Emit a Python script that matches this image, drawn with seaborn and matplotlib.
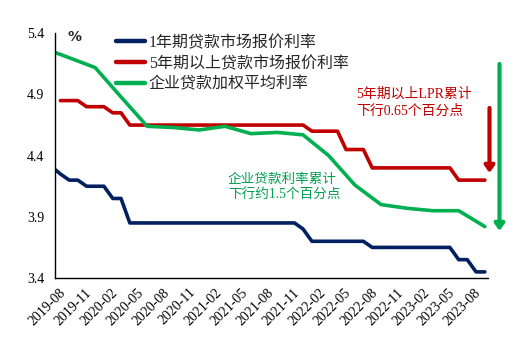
import matplotlib
matplotlib.use("Agg")
import matplotlib.pyplot as plt
import matplotlib.dates as mdates
import matplotlib.transforms as mtransforms
from matplotlib.lines import Line2D
import numpy as np
import pandas as pd
import seaborn as sns

sns.set_style("white")
plt.rcParams["font.family"] = ["Liberation Serif", "Noto Sans CJK SC", "DejaVu Sans"]
plt.rcParams["axes.unicode_minus"] = False

# ---- data ----
series_names = ["1年期贷款市场报价利率", "5年期以上贷款市场报价利率", "企业贷款加权平均利率"]
colors = ["#002060", "#C00000", "#00B050"]

# monthly LPR fixings (20th of each month), 2019-07 .. 2023-09
lpr_months = pd.date_range("2019-07-01", "2023-09-01", freq="MS") + pd.Timedelta(days=19)
lpr_1y = [4.31,
          4.25, 4.20, 4.20, 4.15, 4.15, 4.15, 4.05, 4.05, 3.85,
          3.85, 3.85, 3.85, 3.85, 3.85, 3.85, 3.85, 3.85,
          3.85, 3.85, 3.85, 3.85, 3.85, 3.85, 3.85, 3.85, 3.85, 3.85, 3.85,
          3.80,
          3.70, 3.70, 3.70, 3.70, 3.70, 3.70, 3.70,
          3.65, 3.65, 3.65, 3.65, 3.65, 3.65, 3.65, 3.65, 3.65, 3.65,
          3.55, 3.55, 3.45, 3.45]
lpr_5y = [np.nan,
          4.85, 4.85, 4.85, 4.80, 4.80, 4.80, 4.75, 4.75,
          4.65, 4.65, 4.65, 4.65, 4.65, 4.65, 4.65, 4.65, 4.65,
          4.65, 4.65, 4.65, 4.65, 4.65, 4.65, 4.65, 4.65, 4.65, 4.65, 4.65, 4.65,
          4.60, 4.60, 4.60, 4.60,
          4.45, 4.45, 4.45,
          4.30, 4.30, 4.30, 4.30, 4.30, 4.30, 4.30, 4.30, 4.30, 4.30,
          4.20, 4.20, 4.20, 4.20]

# quarterly weighted average rate on corporate loans
corp_quarters = pd.date_range("2019-06-01", "2023-09-01", freq="3MS") + pd.Timedelta(days=19)
corp_rate = [5.28, 5.20, 5.12, 4.88, 4.64, 4.63, 4.61, 4.64, 4.58,
             4.59, 4.57, 4.40, 4.16, 4.00, 3.97, 3.95, 3.95, 3.82]

y_ticks = [3.4, 3.9, 4.4, 4.9, 5.4]

df = pd.concat([
    pd.DataFrame({"date": lpr_months, "rate": lpr_1y, "series": series_names[0]}),
    pd.DataFrame({"date": lpr_months, "rate": lpr_5y, "series": series_names[1]}),
    pd.DataFrame({"date": corp_quarters, "rate": corp_rate, "series": series_names[2]}),
]).dropna()

# ---- figure ----
W, H = 525, 343
fig = plt.figure(figsize=(W / 100, H / 100), dpi=100)
ax = fig.add_axes([55 / W, 1 - 278 / H, (488 - 55) / W, (278 - 33.3) / H])

sns.lineplot(data=df, x="date", y="rate", hue="series", hue_order=series_names,
             palette=colors, linewidth=2.6, ax=ax, legend=False, estimator=None)

ax.set_xlim(pd.Timestamp("2019-08-01"), pd.Timestamp("2023-10-01"))
ax.set_ylim(3.4, 5.4)
ax.set_yticks(y_ticks)
ax.set_yticklabels([f"{v:.1f}" for v in y_ticks])
ax.xaxis.set_major_locator(mdates.MonthLocator(bymonth=[2, 5, 8, 11], bymonthday=1))
ax.xaxis.set_major_formatter(mdates.DateFormatter("%Y-%m"))
ax.set_xlabel("")
ax.set_ylabel("")

for s in ["top", "right"]:
    ax.spines[s].set_visible(False)
for s in ["left", "bottom"]:
    ax.spines[s].set_color("black")
    ax.spines[s].set_linewidth(1.0)

ax.tick_params(axis="both", which="major", direction="out", length=4, width=1,
               color="black", labelsize=10, labelcolor="black")
ax.tick_params(axis="x", pad=2)
shift = mtransforms.ScaledTranslation(6 / 72, -3 / 72, fig.dpi_scale_trans)
for lab in ax.get_xticklabels():
    lab.set_rotation(45)
    lab.set_ha("right")
    lab.set_va("center")
    lab.set_rotation_mode("anchor")
    lab.set_transform(lab.get_transform() + shift)

fig.text(75 / W, 1 - 37 / H, "%", ha="center", va="center", fontsize=10,
         fontweight="bold", family="DejaVu Sans")

handles = [Line2D([0], [0], color=c, lw=3.2) for c in colors]
ax.legend(handles, series_names, loc="upper left",
          bbox_to_anchor=(116 / W, 1 - 35 / H), bbox_transform=fig.transFigure,
          frameon=False, fontsize=11.5, handlelength=1.8, handletextpad=0.25,
          labelspacing=0.3, borderpad=0, borderaxespad=0)

fig.text(356 / W, 1 - 87 / H, "5年期以上LPR累计\n下行0.65个百分点", ha="left", va="top",
         fontsize=10, color="#C00000", linespacing=1.4)
fig.text(228 / W, 1 - 173 / H, "企业贷款利率累计\n下行约1.5个百分点", ha="left", va="top",
         fontsize=9.8, color="#00A050", linespacing=1.25)

def down_arrow(x, y0, y1, color):
    ax.annotate("", xy=(x / W, 1 - y1 / H), xytext=(x / W, 1 - y0 / H),
                xycoords="figure fraction", textcoords="figure fraction",
                arrowprops=dict(arrowstyle="-|>,head_width=0.28,head_length=0.4",
                                color=color, lw=3.0, shrinkA=0, shrinkB=0),
                annotation_clip=False)

down_arrow(489.5, 108, 173, "#C00000")
down_arrow(499.5, 64, 231, "#00B050")

fig.savefig("out.png", dpi=100)
